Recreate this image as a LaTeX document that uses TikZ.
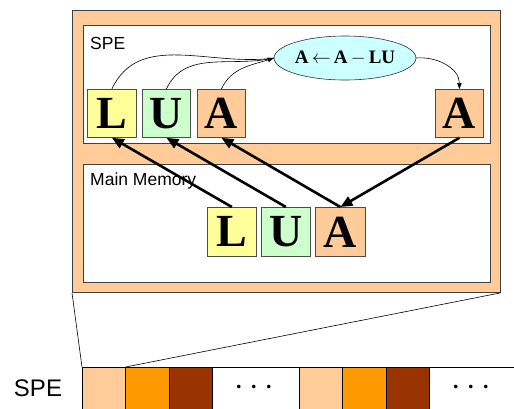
\documentclass[tikz,border=0pt]{standalone}
\usepackage{fontspec}
\usepackage{fix-cm}
\setmainfont{Liberation Sans}
\newfontfamily\tms{Liberation Serif}
\usetikzlibrary{arrows.meta,shapes.geometric}
\definecolor{lorange}{HTML}{FFCC99}
\definecolor{lyellow}{HTML}{FFFF99}
\definecolor{lgreen}{HTML}{CCFFCC}
\definecolor{dorange}{HTML}{FF9900}
\definecolor{brown}{HTML}{993300}
\definecolor{lcyan}{HTML}{CCFFFF}
\begin{document}
\begin{tikzpicture}[x=1pt,y=-1pt,
  panel/.style={draw=black!75, line width=0.8pt, anchor=north west, inner sep=0pt},
  letter/.style={draw=black!70, line width=0.8pt, anchor=north west, inner sep=0pt,
    minimum height=48pt, font=\tms\bfseries\fontsize{46}{46}\selectfont},
  cell/.style={draw=black, line width=0.6pt, anchor=north west, inner sep=0pt, minimum height=46pt},
  lbl/.style={anchor=north west, inner sep=0pt, font=\fontsize{17.5}{20}\selectfont},
  thick arrow/.style={line width=2.6pt, -{Triangle[length=12pt,width=10pt]}},
  thin arrow/.style={line width=0.6pt, -{Triangle[length=6pt,width=4.5pt]}},
  zoomline/.style={line width=0.6pt, draw=black}
]
\useasboundingbox (0,0) rectangle (514,408);
% outer panel
\node[panel, fill=lorange, minimum width=428pt, minimum height=282pt] (outer) at (72,10) {};
\node[panel, fill=white, minimum width=407pt, minimum height=118pt] (spe) at (83,25) {};
\node[panel, fill=white, minimum width=407pt, minimum height=118pt] (mm) at (83,164) {};
\node[lbl] (spelbl) at (90,37) {SPE};
\node[lbl] (mmlbl) at (90,173) {Main Memory};
% SPE letters
\node[letter, fill=lyellow, minimum width=49pt] (tL) at (87,89) {L};
\node[letter, fill=lgreen, minimum width=48pt] (tU) at (142,89) {U};
\node[letter, fill=lorange, minimum width=48pt] (tA) at (197,89) {A};
\node[letter, fill=lorange, minimum width=48pt] (tA2) at (435,89) {A};
\node[ellipse, draw=black!80, line width=0.6pt, fill=lcyan, minimum width=136pt, minimum height=44pt, inner sep=0pt,
  font=\tms\bfseries\fontsize{19}{20}\selectfont] (ell) at (345,58) {A\,$\leftarrow$\,A\,$-$\,LU};
% main memory letters
\node[letter, fill=lyellow, minimum width=49pt, minimum height=49pt] (bL) at (207,207) {L};
\node[letter, fill=lgreen, minimum width=49pt, minimum height=49pt] (bU) at (261,207) {U};
\node[letter, fill=lorange, minimum width=50pt, minimum height=49pt] (bA) at (315,207) {A};
% thin curved arrows
\draw[line width=0.6pt] (tL.north) to[out=65,in=188] (ell.west);
\draw[line width=0.6pt] (tU.north) to[out=65,in=193] (ell.west);
\draw[thin arrow] (tA.north) to[out=65,in=198] (ell.west);
\draw[thin arrow] (ell.east) to[out=5,in=90] (tA2.north);
% thick arrows
\draw[thick arrow] (bL.north) -- (tL.south);
\draw[thick arrow] (bU.north) -- (tU.south);
\draw[thick arrow] (bA.north) -- (tA.south);
\draw[thick arrow] (tA2.south) -- (bA.north);
% bottom strip
\node[cell, fill=lorange, minimum width=43pt] (c1) at (82,367) {};
\node[cell, fill=dorange, minimum width=44pt] (c2) at (125,367) {};
\node[cell, fill=brown, minimum width=43pt] (c3) at (169,367) {};
\node[cell, fill=white, minimum width=87pt] (c4) at (212,367) {};
\node[cell, fill=lorange, minimum width=43pt] (c5) at (299,367) {};
\node[cell, fill=dorange, minimum width=44pt] (c6) at (342,367) {};
\node[cell, fill=brown, minimum width=43pt] (c7) at (386,367) {};
\node[cell, fill=white, minimum width=100pt] (c8) at (429,367) {};
\node[font=\fontsize{34}{36}\selectfont, inner sep=0pt] (d1) at (254,388) {$\cdots$};
\node[font=\fontsize{34}{36}\selectfont, inner sep=0pt] (d2) at (471,388) {$\cdots$};
\node[font=\fontsize{24}{26}\selectfont, inner sep=0pt] (strip) at (38,388) {SPE};
% zoom lines
\draw[zoomline] (outer.south west) -- (c1.north west);
\draw[zoomline] (outer.south east) -- (c1.north east);
\end{tikzpicture}
\end{document}
